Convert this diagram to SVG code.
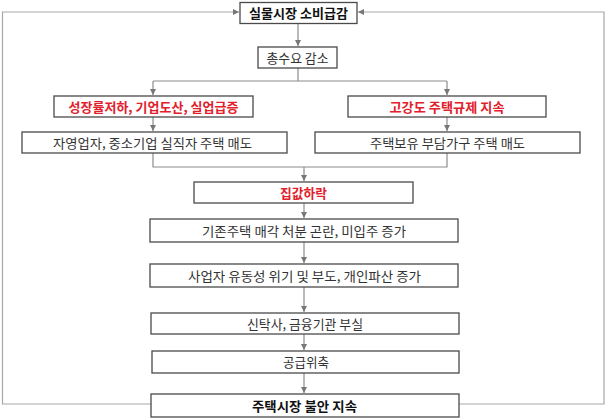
<svg xmlns="http://www.w3.org/2000/svg" width="607" height="419" viewBox="0 0 607 419">
<style>
.box{fill:#fff;stroke:#4a4a4a;stroke-width:1.3}
.t{font-family:"Noto Sans CJK KR","Noto Sans",sans-serif;font-size:13px;fill:#333;text-anchor:middle}
.b{font-weight:bold;fill:#111}
.r{font-weight:bold;fill:#e2202b}
.c{fill:none;stroke:#8c8c8c;stroke-width:1.2}
.loop{fill:none;stroke:#a8a8a8;stroke-width:1.2}
</style>
<defs>
<marker id="ar" markerUnits="userSpaceOnUse" markerWidth="7" markerHeight="7" refX="6" refY="3" orient="auto">
<path d="M0,0 L6,3 L0,6 z" fill="#777"/>
</marker>
</defs>
<rect width="607" height="419" fill="#fff"/>
<g id="connectors">
<path class="c" d="M298,23 V46" marker-end="url(#ar)"/>
<path class="c" d="M298,68 V81 M153,81 H447"/>
<path class="c" d="M153,81 V95" marker-end="url(#ar)"/>
<path class="c" d="M447,81 V95" marker-end="url(#ar)"/>
<path class="c" d="M153,117 V131" marker-end="url(#ar)"/>
<path class="c" d="M447,117 V131" marker-end="url(#ar)"/>
<path class="c" d="M153,153 V167 H447 V153"/>
<path class="c" d="M304,167 V181" marker-end="url(#ar)"/>
<path class="c" d="M304,203 V218" marker-end="url(#ar)"/>
<path class="c" d="M304,242 V263" marker-end="url(#ar)"/>
<path class="c" d="M304,287 V312" marker-end="url(#ar)"/>
<path class="c" d="M304,334 V350" marker-end="url(#ar)"/>
<path class="c" d="M304,373 V393" marker-end="url(#ar)"/>
<path class="loop" d="M151,404 H2.5 V12 H239" marker-end="url(#ar)"/>
<path class="loop" d="M459,404 H604 V12 H358" marker-end="url(#ar)"/>
</g>
<g id="n1"><rect class="box" x="240" y="2.5" width="117" height="21"/><text class="t b" x="298.5" y="18" textLength="99" lengthAdjust="spacingAndGlyphs">실물시장 소비급감</text></g>
<g id="n2"><rect class="box" x="258" y="47" width="79" height="21"/><text class="t" x="297.5" y="62.5" textLength="62" lengthAdjust="spacingAndGlyphs">총수요 감소</text></g>
<g id="n3"><rect class="box" x="54" y="96" width="199" height="21"/><text class="t r" x="153.5" y="111.5" textLength="170" lengthAdjust="spacingAndGlyphs">성장률저하, 기업도산, 실업급증</text></g>
<g id="n4"><rect class="box" x="348" y="96" width="198" height="21"/><text class="t r" x="447" y="111.5" textLength="115" lengthAdjust="spacingAndGlyphs">고강도 주택규제 지속</text></g>
<g id="n5"><rect class="box" x="22" y="132" width="265" height="21"/><text class="t" x="152.5" y="147.5" textLength="199" lengthAdjust="spacingAndGlyphs">자영업자, 중소기업 실직자 주택 매도</text></g>
<g id="n6"><rect class="box" x="315" y="132" width="265" height="21"/><text class="t" x="447.5" y="147.5" textLength="155" lengthAdjust="spacingAndGlyphs">주택보유 부담가구 주택 매도</text></g>
<g id="n7"><rect class="box" x="194" y="182" width="219" height="21"/><text class="t r" x="303.5" y="197.5" textLength="47" lengthAdjust="spacingAndGlyphs">집값하락</text></g>
<g id="n8"><rect class="box" x="150" y="219" width="308" height="23"/><text class="t" x="304" y="235.5" textLength="204" lengthAdjust="spacingAndGlyphs">기존주택 매각 처분 곤란, 미입주 증가</text></g>
<g id="n9"><rect class="box" x="150" y="264" width="308" height="23"/><text class="t" x="304.5" y="280.5" textLength="233" lengthAdjust="spacingAndGlyphs">사업자 유동성 위기 및 부도, 개인파산 증가</text></g>
<g id="n10"><rect class="box" x="151" y="313" width="308" height="21"/><text class="t" x="305" y="328.5" textLength="116" lengthAdjust="spacingAndGlyphs">신탁사, 금융기관 부실</text></g>
<g id="n11"><rect class="box" x="152" y="351" width="307" height="22"/><text class="t" x="306" y="367" textLength="46" lengthAdjust="spacingAndGlyphs">공급위축</text></g>
<g id="n12"><rect class="box" x="151" y="394" width="308" height="23"/><text class="t b" x="304.5" y="410.5" textLength="105" lengthAdjust="spacingAndGlyphs">주택시장 불안 지속</text></g>
</svg>
